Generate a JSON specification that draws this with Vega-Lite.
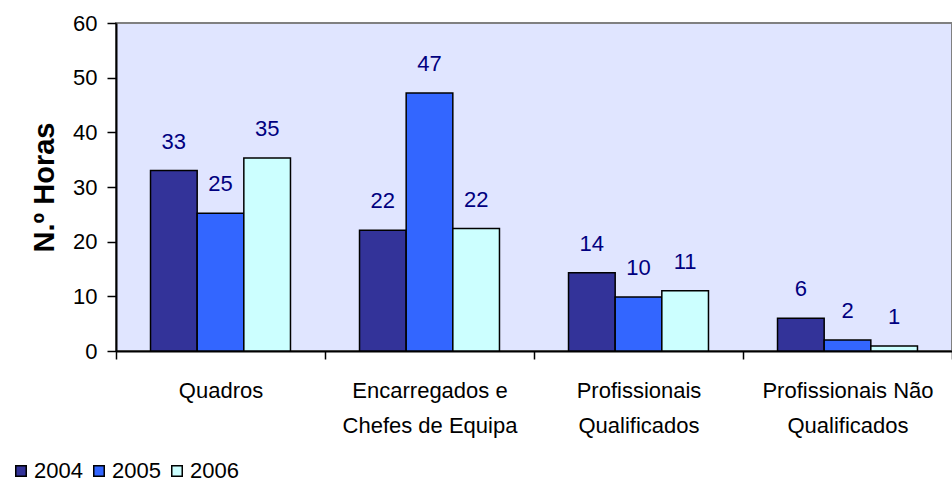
{
  "$schema": "https://vega.github.io/schema/vega-lite/v6.json",
  "width": 836,
  "height": 328,
  "autosize": {"type": "none"},
  "padding": {"left": 116, "top": 23, "right": 0, "bottom": 131},
  "background": "white",
  "config": {
    "font": "Liberation Sans",
    "view": {"fill": "#E0E5FF", "stroke": "#808080", "strokeWidth": 2},
    "axis": {"grid": false, "domainColor": "black", "tickColor": "black", "labelColor": "black", "titleColor": "black", "labelLimit": 0}
  },
  "data": {
    "values": [
      {"categoria": "Quadros", "ano": "2004", "horas": 33.0},
      {"categoria": "Quadros", "ano": "2005", "horas": 25.2},
      {"categoria": "Quadros", "ano": "2006", "horas": 35.3},
      {"categoria": "Encarregados e Chefes de Equipa", "ano": "2004", "horas": 22.1},
      {"categoria": "Encarregados e Chefes de Equipa", "ano": "2005", "horas": 47.2},
      {"categoria": "Encarregados e Chefes de Equipa", "ano": "2006", "horas": 22.4},
      {"categoria": "Profissionais Qualificados", "ano": "2004", "horas": 14.3},
      {"categoria": "Profissionais Qualificados", "ano": "2005", "horas": 9.9},
      {"categoria": "Profissionais Qualificados", "ano": "2006", "horas": 11.0},
      {"categoria": "Profissionais Não Qualificados", "ano": "2004", "horas": 6.0},
      {"categoria": "Profissionais Não Qualificados", "ano": "2005", "horas": 2.0},
      {"categoria": "Profissionais Não Qualificados", "ano": "2006", "horas": 0.9}
    ]
  },
  "encoding": {
    "x": {
      "field": "categoria",
      "type": "nominal",
      "sort": null,
      "scale": {"paddingInner": 0, "paddingOuter": 0},
      "axis": {
        "title": null,
        "labelAngle": 0,
        "labelFontSize": 22,
        "labelLineHeight": 35,
        "labelPadding": 21,
        "tickSize": 8,
        "tickWidth": 1.5,
        "tickBand": "extent",
        "domainWidth": 2,
        "labelExpr": "datum.label == 'Encarregados e Chefes de Equipa' ? ['Encarregados e', 'Chefes de Equipa'] : datum.label == 'Profissionais Qualificados' ? ['Profissionais', 'Qualificados'] : datum.label == 'Profissionais Não Qualificados' ? ['Profissionais Não', 'Qualificados'] : datum.label"
      }
    },
    "xOffset": {"field": "ano", "type": "nominal", "scale": {"paddingOuter": 0.74, "paddingInner": 0}},
    "y": {
      "field": "horas",
      "type": "quantitative",
      "scale": {"domain": [0, 60], "nice": false},
      "axis": {
        "title": "N.º Horas",
        "titleFontSize": 29,
        "titleFontWeight": "bold",
        "titlePadding": 13,
        "values": [0, 10, 20, 30, 40, 50, 60],
        "labelFontSize": 22,
        "labelPadding": 10,
        "tickSize": 9,
        "tickWidth": 1.5,
        "domainWidth": 2
      }
    }
  },
  "layer": [
    {
      "mark": {"type": "bar", "stroke": "black", "strokeWidth": 1.5},
      "encoding": {
        "color": {
          "field": "ano",
          "type": "nominal",
          "scale": {"domain": ["2004", "2005", "2006"], "range": ["#333399", "#3366FF", "#CCFFFF"]},
          "legend": {
            "title": null,
            "orient": "none",
            "direction": "horizontal",
            "legendX": -106,
            "legendY": 437,
            "symbolType": "square",
            "symbolSize": 110,
            "symbolStrokeColor": "black",
            "symbolStrokeWidth": 1.5,
            "symbolOpacity": 1,
            "labelFontSize": 22,
            "labelColor": "black",
            "labelOffset": 2,
            "columnPadding": 5
          }
        }
      }
    },
    {
      "mark": {"type": "text", "baseline": "middle", "dy": -29, "fontSize": 22, "color": "#000080"},
      "encoding": {
        "text": {"field": "horas", "type": "quantitative", "format": ".0f"}
      }
    }
  ]
}
